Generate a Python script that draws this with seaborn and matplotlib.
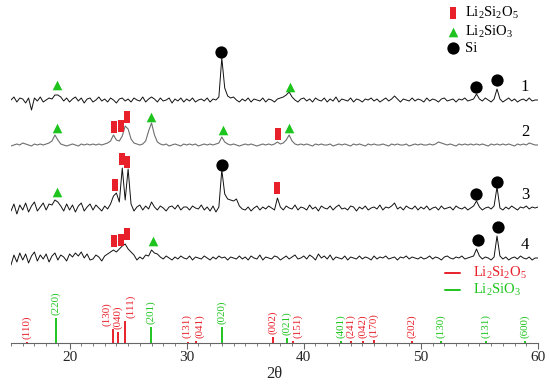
import numpy as np
import pandas as pd
import matplotlib
matplotlib.use("Agg")
import matplotlib.pyplot as plt
import seaborn as sns
from matplotlib.ticker import MultipleLocator

# ---------------------------------------------------------------------------
# Data
# ---------------------------------------------------------------------------
# 2theta grid the four patterns were sampled on
TWO_THETA = np.arange(15.0, 60.001, 0.25)

# intensity above each pattern's own baseline, a.u.  (rows = 5 deg each)
PATTERN_1 = [
    0, 3, -2, 2, 1, -3, 2, -10, 2, -1, 3, -2, 0, 2, 1, 5, 5, 3, -1, 2,
    -2, 1, 3, -1, 2, -3, 1, 2, -2, 0, 3, -1, 1, -2, 2, 0, -3, 1, 2, -1,
    1, -2, 2, 0, -1, 3, -2, 1, 3, 1, -2, 2, -1, 0, 2, -3, 1, -1, 2, -2,
    1, -1, 2, -2, 0, 1, -1, 2, -2, 1, 0, 3, 42, 12, 4, 2, 3, 0, -2, 1,
    -1, 2, -2, 1, 0, -1, 2, -2, 1, 0, -2, 1, 2, 3, 5, 8, 3, 0, -2, 1,
    2, -1, 1, -2, 2, 0, -1, 2, -2, 1, -1, 3, -2, 1, 0, -1, 2, -2, 1, 0,
    -2, 1, 0, 2, -1, 1, -2, 0, 2, -1, 1, 4, 1, -2, 1, 0, -1, 2, -1, 1,
    0, -2, 2, -1, 1, 0, -2, 1, 2, -1, 0, 1, -2, 1, 0, 2, -1, 0, 1, 6,
    1, -1, 2, 0, -2, 1, 11, 1, -2, 0, 2, -1, 1, -2, 0, 1, -1, 2, -1, 0,
    0,
]
PATTERN_2 = [
    -1, 0, 1, 0, 2, 1, 0, -1, 1, 0, 1, 0, 1, 2, 4, 10, 5, 1, 0, -1,
    0, 1, 0, -1, 1, 0, 1, 0, 1, 0, 1, 0, 1, 2, 4, 10, 5, 4, 9, 19,
    16, 6, 2, 1, 0, 1, 4, 14, 22, 10, 3, 1, 0, 1, -1, 0, 1, 0, -1, 1,
    0, 1, 0, 1, -1, 0, 1, 0, 1, 0, 1, 2, 8, 3, 1, 0, 1, 0, -1, 0,
    1, 0, 1, 0, -1, 0, 1, 0, 1, 0, 1, 3, 1, 2, 5, 10, 4, 1, 0, 1,
    0, 1, 0, -1, 1, 0, 1, 0, 0, 1, -1, 0, 1, 0, 1, 0, -1, 1, 0, 1,
    0, -1, 1, 0, 1, 0, 0, 1, 0, -1, 1, 0, 1, 0, 0, 1, -1, 0, 1, 0,
    1, 0, 0, 1, 0, 1, 3, 2, 1, 0, 1, 0, -1, 1, 0, 1, 0, 1, 0, 1,
    0, 1, 0, -1, 1, 0, 1, 0, 1, 0, 1, 0, -1, 1, 0, 1, 0, 2, 1, 0,
    0,
]
PATTERN_3 = [
    -3, 4, -6, 3, -2, 5, -4, 2, 6, -3, 1, 5, -2, 4, 3, 8, 6, 2, -3, 4,
    -2, 3, -4, 2, 5, -3, 1, 4, -2, 3, 0, -3, 2, -1, 4, 12, 15, 6, 40, 8,
    39, 4, -3, 1, 3, -2, 2, -1, 6, 1, -2, 2, 0, -3, 1, 2, -1, 3, -2, 1,
    1, -2, 2, 0, -1, 3, -2, 1, -3, 2, -4, 1, 38, 14, 9, 8, 7, 9, 2, -1,
    -2, 1, -3, 0, 2, -2, 1, -1, 2, 0, -2, 10, 1, -2, 2, 0, -1, 3, -2, 1,
    0, -2, 3, -1, 1, -3, 2, 0, -1, 2, -2, 1, 3, -1, 0, -2, 2, 1, -3, 1,
    -1, 2, -2, 0, 1, -1, 3, -2, 1, 0, 2, 5, -1, 1, -2, 2, 0, -1, 2, -2,
    1, -1, 2, -2, 0, 1, -2, 2, -1, 0, 1, -2, 2, 0, -1, 1, -2, 0, 2, 7,
    1, -2, 0, 1, -1, 2, 21, 0, -2, 1, -1, 2, 0, -2, 1, 0, 2, -1, 1, 0,
    1,
]
PATTERN_4 = [
    -7, 3, -4, 5, -2, 4, -5, 2, 6, -3, 3, -1, 4, -4, 2, 5, -2, 3, 1, -3,
    4, 1, 5, 2, 6, 0, 4, -2, -1, 3, 1, -3, 2, 4, 6, 8, 6, 9, 12, 14,
    9, 6, 3, -2, 1, -1, 3, 2, 8, 5, 4, 1, -1, 2, 0, -2, 1, -1, 2, 0,
    -1, 2, -2, 1, 0, -1, 2, 0, -2, 1, -1, 2, 0, 1, -2, 1, 0, -1, 2, -1,
    1, -2, 2, 0, -1, 3, -2, 1, 0, -1, 2, 1, -2, 0, 2, -1, 1, 3, -1, 0,
    2, -1, 3, 1, -2, 4, 0, 2, -1, 3, -2, 1, 0, -1, 2, -2, 1, 0, -1, 2,
    -1, 1, 0, -2, 2, -1, 1, 0, 2, -1, 0, 1, -2, 1, 0, 2, -1, 1, 0, -1,
    1, -1, 0, 2, -1, 1, 0, -2, 1, 2, 0, -1, 1, 0, 2, -1, 0, 1, 2, 9,
    2, -1, 1, 0, -2, 1, 22, 2, -1, 1, -2, 0, 1, -1, 2, 0, -1, 1, -2, 0,
    0,
]
PATTERNS = [PATTERN_1, PATTERN_2, PATTERN_3, PATTERN_4]
PATTERN_NAMES = ["1", "2", "3", "4"]

# phase markers above the peaks: pattern, phase, 2theta, height above baseline
MARK_PATTERN = [1, 1, 1, 1, 1,
                2, 2, 2, 2, 2, 2, 2, 2,
                3, 3, 3, 3, 3, 3, 3, 3,
                4, 4, 4, 4, 4, 4]
MARK_PHASE = ["LS", "Si", "LS", "Si", "Si",
              "LS", "L2S", "L2S", "L2S", "LS", "LS", "L2S", "LS",
              "LS", "L2S", "L2S", "L2S", "Si", "L2S", "Si", "Si",
              "L2S", "L2S", "L2S", "LS", "Si", "Si"]
MARK_2THETA = [18.9, 32.9, 38.8, 54.7, 56.5,
               18.9, 23.83, 24.37, 24.88, 26.96, 33.08, 37.8, 38.7,
               18.9, 23.9, 24.46, 24.94, 33.0, 37.75, 54.7, 56.5,
               23.83, 24.37, 24.9, 27.16, 54.86, 56.57]
MARK_HEIGHT = [15, 48, 13, 13, 20,
               17, 18, 19, 27.7, 28, 15, 11.5, 17,
               16, 23, 49, 46, 43, 20, 14.5, 26.5,
               17, 18, 23.7, 17, 18, 31]

# standard reference lines (bottom stick pattern)
REF_PHASE = ["L2S", "LS", "L2S", "L2S", "L2S", "LS", "L2S", "L2S", "LS", "L2S",
             "LS", "L2S", "LS", "L2S", "L2S", "L2S", "L2S", "LS", "LS", "LS"]
REF_HKL = ["(110)", "(220)", "(130)", "(040)", "(111)", "(201)", "(131)", "(041)",
           "(020)", "(002)", "(021)", "(151)", "(401)", "(241)", "(042)", "(170)",
           "(202)", "(130)", "(131)", "(600)"]
REF_2THETA = [16.35, 18.8, 23.74, 24.17, 24.74, 26.93, 30.15, 30.8, 33.02, 37.35,
              38.55, 39.1, 43.2, 44.04, 45.04, 46.03, 49.2, 51.7, 55.57, 58.9]
REF_HEIGHT = [1, 25, 14, 11, 22, 16, 1.5, 2.5, 16, 6,
              5, 2, 2, 2, 2, 3, 2, 2, 2, 2]

PHASE_LABELS = {"L2S": r"Li$_2$Si$_2$O$_5$", "LS": r"Li$_2$SiO$_3$", "Si": "Si"}

# ---------------------------------------------------------------------------
# Layout / style
# ---------------------------------------------------------------------------
OFFSETS = [243, 198, 135, 85]          # vertical stacking of the patterns
LABEL_SHIFT = [0, 0, -0.6, -0.05, 0.45, 0, -0.15, 0.3, 0, 0,
               -0.05, 0.4, -0.05, 0, -0.05, -0.05, 0, 0, 0, 0]
RED = "#e8202a"
GREEN = "#1ec41e"
PHASE_COLORS = {"L2S": RED, "LS": GREEN, "Si": "black"}
RECT = [(-0.27, -0.5), (0.27, -0.5), (0.27, 0.5), (-0.27, 0.5), (-0.27, -0.5)]
PHASE_MARKERS = {"L2S": RECT, "LS": "^", "Si": "o"}
PHASE_SIZES = {"L2S": 70, "LS": 48, "Si": 78}
TRACE_COLORS = ["#111111", "#6e6e6e", "#111111", "#111111"]
TRACE_WIDTHS = [0.7, 0.8, 0.7, 0.7]

sns.set_theme(style="white")
plt.rcParams["font.family"] = ["Liberation Serif", "DejaVu Serif"]
plt.rcParams["mathtext.fontset"] = "custom"
plt.rcParams["mathtext.rm"] = "Liberation Serif"
plt.rcParams["mathtext.it"] = "Liberation Serif:italic"


def main():
    fig = plt.figure(figsize=(5.5, 3.85), dpi=100)
    ax = fig.add_axes([11 / 550, 42 / 385, 527 / 550, 343 / 385])

    # stacked patterns
    for i, vals in enumerate(PATTERNS):
        df = pd.DataFrame({"two_theta": TWO_THETA,
                           "intensity": np.asarray(vals, float) + OFFSETS[i]})
        sns.lineplot(data=df, x="two_theta", y="intensity", ax=ax,
                     color=TRACE_COLORS[i], linewidth=TRACE_WIDTHS[i],
                     estimator=None, sort=False)
        ax.text(58.9, OFFSETS[i] + 13, PATTERN_NAMES[i], fontsize=12,
                ha="center", va="center", color="black")

    # phase markers
    marks = pd.DataFrame({"pattern": MARK_PATTERN, "phase": MARK_PHASE,
                          "two_theta": MARK_2THETA, "height": MARK_HEIGHT})
    marks["y"] = marks["height"] + marks["pattern"].map(lambda p: OFFSETS[p - 1])
    for phase, grp in marks.groupby("phase"):
        sns.scatterplot(data=grp, x="two_theta", y="y", ax=ax,
                        marker=PHASE_MARKERS[phase], s=PHASE_SIZES[phase],
                        color=PHASE_COLORS[phase], linewidth=0, zorder=5)

    # reference sticks
    ref = pd.DataFrame({"phase": REF_PHASE, "hkl": REF_HKL,
                        "two_theta": REF_2THETA, "height": REF_HEIGHT})
    for k, row in ref.iterrows():
        c = PHASE_COLORS[row["phase"]]
        ax.vlines(row["two_theta"], 0, row["height"], colors=c, linewidth=1.4)
        ax.text(row["two_theta"] + LABEL_SHIFT[k], row["height"] + 3, row["hkl"],
                rotation=90, ha="center", va="bottom", fontsize=7.9, color=c)

    # marker key (top right)
    for j, phase in enumerate(["L2S", "LS", "Si"]):
        fy = [0.962, 0.907, 0.860][j]
        ax.scatter(0.839, fy, transform=ax.transAxes, marker=PHASE_MARKERS[phase],
                   s=PHASE_SIZES[phase], color=PHASE_COLORS[phase], linewidth=0,
                   clip_on=False)
        ax.text(0.861, fy, PHASE_LABELS[phase], transform=ax.transAxes,
                fontsize=10.5, va="center", ha="left", color="black")

    # stick key
    for j, phase in enumerate(["L2S", "LS"]):
        fy = [0.204, 0.155][j]
        ax.plot([0.824, 0.852], [fy, fy], transform=ax.transAxes,
                color=PHASE_COLORS[phase], linewidth=1.4)
        ax.text(0.877, fy, PHASE_LABELS[phase], transform=ax.transAxes,
                fontsize=10.5, va="center", ha="left", color=PHASE_COLORS[phase])

    ax.set_xlim(15, 60)
    ax.set_ylim(0, 343)
    ax.xaxis.set_major_locator(MultipleLocator(10))
    ax.xaxis.set_minor_locator(MultipleLocator(1))
    ax.tick_params(axis="x", which="major", length=4, width=0.8, color="#666666",
                   labelsize=11, pad=2, bottom=True)
    ax.tick_params(axis="x", which="minor", length=2.5, width=0.6, color="#666666",
                   bottom=True)
    ax.set_yticks([])
    ax.set_ylabel("")
    ax.set_xlabel("2θ", fontsize=12, labelpad=1)
    for side in ["left", "top", "right"]:
        ax.spines[side].set_visible(False)
    ax.spines["bottom"].set_color("#666666")
    ax.spines["bottom"].set_linewidth(0.8)
    ax.patch.set_alpha(0)

    fig.savefig("out.png", dpi=100, facecolor="white")


if __name__ == "__main__":
    main()
